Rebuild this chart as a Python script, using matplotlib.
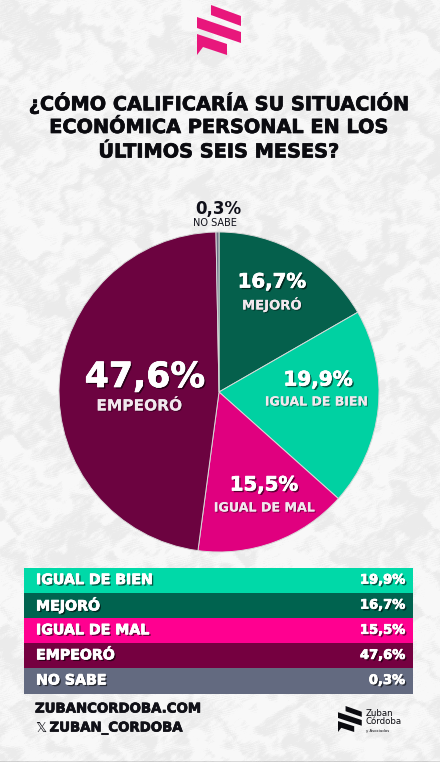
import numpy as np
import matplotlib
matplotlib.use("Agg")
import matplotlib.pyplot as plt
import matplotlib.patheffects as pe
from matplotlib.patches import Polygon, Rectangle

W, H = 440, 762

# pie data, clockwise from the top
pieLabels = ["MEJORÓ", "IGUAL DE BIEN", "IGUAL DE MAL", "EMPEORÓ", "NO SABE"]
pieValues = [16.7, 19.9, 15.5, 47.6, 0.3]
pieText = ["16,7%", "19,9%", "15,5%", "47,6%", "0,3%"]
pieColors = ["#05604c", "#00d1a2", "#e0007f", "#6c0340", "#6b7085"]

# table rows, top to bottom
rowLabels = ["IGUAL DE BIEN", "MEJORÓ", "IGUAL DE MAL", "EMPEORÓ", "NO SABE"]
rowText = ["19,9%", "16,7%", "15,5%", "47,6%", "0,3%"]
rowColors = ["#00d9a8", "#00634f", "#ff0090", "#750040", "#636a80"]

titleLines = ["¿CÓMO CALIFICARÍA SU SITUACIÓN", "ECONÓMICA PERSONAL EN LOS", "ÚLTIMOS SEIS MESES?"]

plt.rcParams['font.family'] = ['DejaVu Sans']

fig = plt.figure(figsize=(W / 100, H / 100), dpi=100)

# full figure layer in pixel coordinates (y goes down)
bg = fig.add_axes([0, 0, 1, 1])
bg.set_xlim(0, W)
bg.set_ylim(H, 0)
bg.axis("off")

# mottled paper texture made of warped waves in many directions
yy, xx = np.mgrid[0:H, 0:W].astype(float)
wx = xx + 18 * np.sin(yy * 0.07 + 0.7) + 9 * np.sin(yy * 0.23 + xx * 0.11)
wy = yy + 18 * np.sin(xx * 0.06 + 2.1) + 9 * np.sin(xx * 0.21 - yy * 0.13)
blotch = np.zeros_like(xx)
for fx, fy, ph in [(0.041, 0.019, 0.0), (-0.017, 0.048, 1.3), (0.073, -0.061, 4.0), (0.097, 0.083, 2.2),
                   (-0.131, 0.057, 5.1), (0.043, 0.139, 3.3), (0.19, -0.11, 0.9), (0.12, 0.21, 1.9)]:
	blotch += np.sin(wx * fx + wy * fy + ph)
grain = np.sin(wx * 1.31 + wy * 2.17) * np.sin(wx * 2.33 - wy * 0.97) + np.sin(xx * 0.71 + yy * 1.93 + np.sin(yy * 0.37) * 4)
tex = np.clip((blotch + 0.9 * grain + 1.5) / 4.0, 0, 1)
bg.imshow(0.97 - 0.05 * tex, cmap="gray", vmin=0, vmax=1,
          extent=[0, W, H, 0], aspect="auto", interpolation="bilinear")


def logo(layer, x0, y0, sx, sy, color):
	stripes = [
		[(14, 0), (44, 11), (44, 21), (14, 10)],
		[(0, 12), (44, 27), (44, 38), (0, 23)],
		[(0, 29), (30, 39), (30, 50), (6, 42), (0, 50)],
	]
	for s in stripes:
		layer.add_patch(Polygon([(x0 + a * sx, y0 + b * sy) for a, b in s], closed=True, fc=color, ec="none"))


logo(bg, 197, 5, 1, 1, "#e8177c")

# a thin stroke of the same colour makes the bold face heavier
heavyDark = [pe.withStroke(linewidth=0.5, foreground="#0b0b10")]
for i, line in enumerate(titleLines):
	bg.text(218.5, 103 + i * 24.5, line, ha="center", va="center", fontsize=13.9, fontweight="bold", color="#0b0b10",
	        path_effects=heavyDark)

# pie
cx, cy, r = 219, 392, 160
ax = fig.add_axes([(cx - r) / W, 1 - (cy + r) / H, 2 * r / W, 2 * r / H])
wedges, _ = ax.pie(pieValues, colors=pieColors, startangle=90, counterclock=False,
                   wedgeprops={"edgecolor": "#d8d8d8", "linewidth": 0.7})
ax.set_xlim(-1, 1)
ax.set_ylim(-1, 1)
for w in wedges:
	w.set_clip_on(False)

shadow = [pe.withSimplePatchShadow(offset=(0.8, -0.8), shadow_rgbFace="black", alpha=0.4), pe.Normal()]
heavyShadow = [pe.withSimplePatchShadow(offset=(1.2, -1.2), shadow_rgbFace="black", alpha=0.6),
               pe.withStroke(linewidth=0.5, foreground="white")]

# ax sits above bg, so the slice labels and the rest go on a top layer
top = fig.add_axes([0, 0, 1, 1])
top.set_xlim(0, W)
top.set_ylim(H, 0)
top.axis("off")
top.patch.set_alpha(0)


def sliceText(i, x1, y1, x2, y2, s1, s2):
	top.text(x1, y1, pieText[i], ha="center", va="center", fontsize=s1, fontweight="bold", color="white",
	         path_effects=heavyShadow)
	top.text(x2, y2, pieLabels[i], ha="center", va="center", fontsize=s2, fontweight="bold", color="#f2e8ee",
	         path_effects=shadow)


sliceText(0, 272, 282, 272, 305, 14.2, 9.5)
sliceText(1, 318, 380, 316, 402, 14.4, 9.0)
sliceText(2, 264, 485, 264, 508, 14.2, 9.1)
sliceText(3, 145, 377, 139, 406, 25, 11.1)

top.text(218, 209, pieText[4], ha="center", va="center", fontsize=12, fontweight="bold", color="#10101a")
top.text(215, 223.5, pieLabels[4], ha="center", va="center", fontsize=7, color="#10101a")

# table
rowTop, rowH = 568, 25.1
for i, lab in enumerate(rowLabels):
	y = rowTop + i * rowH
	top.add_patch(Rectangle((24, y), 389, rowH, fc=rowColors[i], ec="none"))
	top.text(36, y + rowH / 2 - 0.5, lab, ha="left", va="center", fontsize=10.2, fontweight="bold", color="white",
	         path_effects=heavyShadow)
	top.text(405, y + rowH / 2 - 0.5, rowText[i], ha="right", va="center", fontsize=9.4, fontweight="bold", color="white",
	         path_effects=heavyShadow)

# footer
top.text(35, 709, "ZUBANCORDOBA.COM", ha="left", va="center", fontsize=9.6, fontweight="bold", color="#111118",
         path_effects=heavyDark)
top.text(35, 728, "\U0001D54F", ha="left", va="center", fontsize=10, color="#111118")
top.text(49.5, 728, "ZUBAN_CORDOBA", ha="left", va="center", fontsize=9.6, fontweight="bold", color="#111118",
         path_effects=heavyDark)

logo(top, 338, 706, 0.54, 0.52, "#0b0b10")
top.text(366, 713, "Zuban", ha="left", va="center", fontsize=6.2, color="#0b0b10")
top.text(366, 722, "Córdoba", ha="left", va="center", fontsize=6.2, color="#0b0b10")
top.text(366, 731, "y Asociados", ha="left", va="center", fontsize=2.8, color="#0b0b10")

top.plot([0, W], [761.5, 761.5], color="#555555", lw=1)

fig.savefig("out.png", dpi=100)
